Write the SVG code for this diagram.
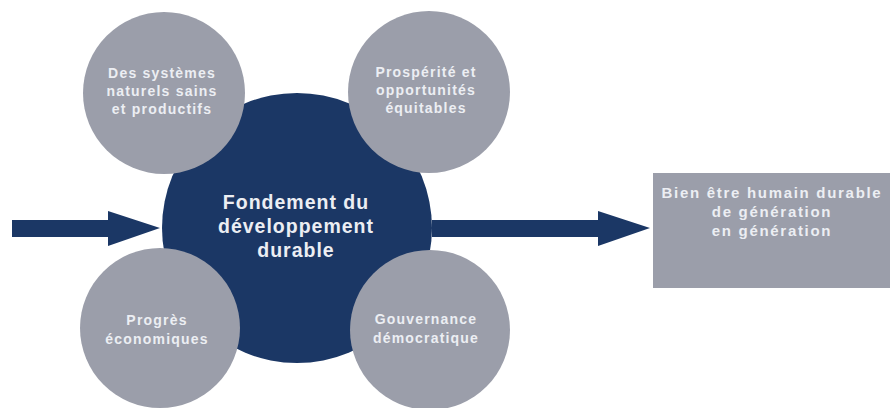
<svg xmlns="http://www.w3.org/2000/svg" width="892" height="408" viewBox="0 0 892 408">
<style>
.navy{fill:#1b3765}
.gray{fill:#9b9eaa}
.t{font-family:"Liberation Sans",Arial,sans-serif;font-weight:bold;fill:#eceef3;text-anchor:middle}
.ts{font-size:14px;letter-spacing:1.2px}
.tc{font-size:19.5px;letter-spacing:1px}
.tb{font-size:15px;letter-spacing:1.7px}
</style>
<rect width="892" height="408" fill="#ffffff"/>
<g id="connectors">
<polygon class="navy" points="12,220 108,220 108,211 160,228 108,246 108,237 12,237"/>
<polygon class="navy" points="432,220 598,220 598,211 650,228 598,246 598,237 432,237"/>
</g>
<g id="center">
<circle class="navy" cx="297" cy="228" r="135"/>
<text class="t tc" x="296" y="209">Fondement du</text>
<text class="t tc" x="296" y="233">développement</text>
<text class="t tc" x="296" y="257">durable</text>
</g>
<g id="n1">
<circle class="gray" cx="164" cy="93" r="81"/>
<text class="t ts" x="162" y="78">Des systèmes</text>
<text class="t ts" x="162" y="96">naturels sains</text>
<text class="t ts" x="162" y="114">et productifs</text>
</g>
<g id="n2">
<circle class="gray" cx="429" cy="92" r="81"/>
<text class="t ts" x="426" y="77">Prospérité et</text>
<text class="t ts" x="426" y="95">opportunités</text>
<text class="t ts" x="426" y="113">équitables</text>
</g>
<g id="n3">
<circle class="gray" cx="160" cy="328" r="80"/>
<text class="t ts" x="157" y="325">Progrès</text>
<text class="t ts" x="157" y="344">économiques</text>
</g>
<g id="n4">
<circle class="gray" cx="430" cy="330" r="80"/>
<text class="t ts" x="426" y="324">Gouvernance</text>
<text class="t ts" x="426" y="343">démocratique</text>
</g>
<g id="box">
<rect class="gray" x="653" y="173" width="237" height="115"/>
<text class="t tb" x="772" y="198">Bien être humain durable</text>
<text class="t tb" x="772" y="217">de génération</text>
<text class="t tb" x="772" y="236">en génération</text>
</g>
</svg>
